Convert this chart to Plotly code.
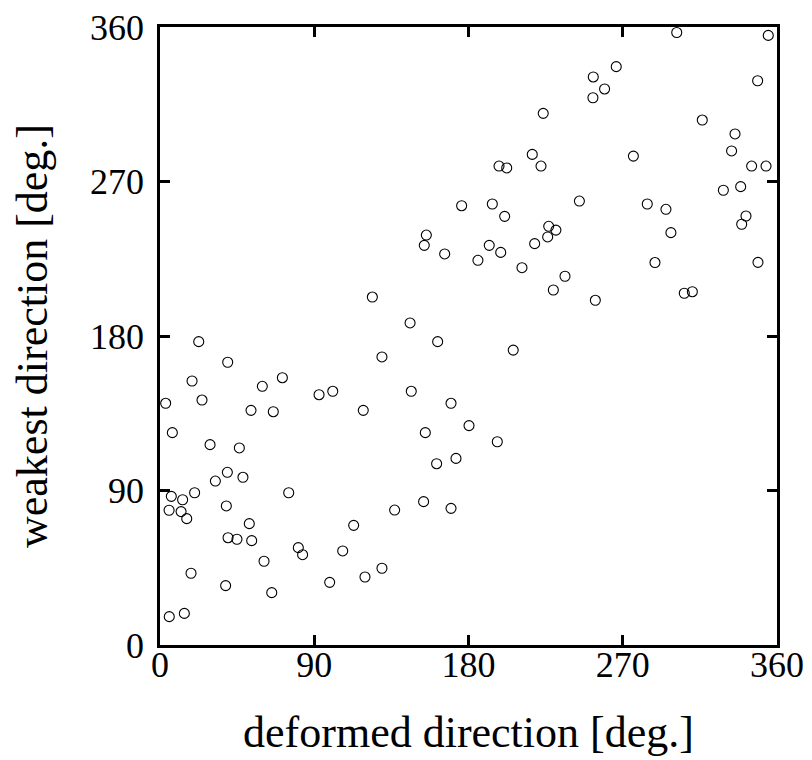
import plotly.graph_objects as go

# deformed direction [deg.]
deformed_deg = [
    22.6, 162.0, 39.5, 129.5, 18.7, 71.4, 59.7, 3.3, 24.5, 53.1, 66.1, 92.8, 100.8,
    118.6, 146.6, 169.8, 154.8, 180.3, 7.2, 29.2, 46.3, 161.4, 172.7, 39.3, 32.3,
    48.4, 6.6, 13.2, 20.2, 5.3, 12.3, 15.6, 38.7, 75.1, 52.1, 39.7, 44.9, 53.5,
    80.7, 83.2, 60.7, 18.1, 38.3, 65.2, 5.4, 14.2, 99.0, 119.6, 129.5, 106.6,
    113.0, 136.9, 153.8, 169.8,
    206.1, 196.8,
    176.0, 155.4, 154.2, 166.1, 123.9, 145.9,
    301.5, 354.9, 266.2, 252.8, 259.4, 252.6, 348.7, 223.6, 316.4, 335.5, 333.5,
    217.2, 276.2, 197.8, 202.3, 222.3, 345.2, 353.6, 328.7, 338.8, 193.9, 201.1,
    244.7, 284.3, 295.2, 226.8, 231.0, 226.2, 218.6, 192.1, 198.8, 185.5, 211.2,
    236.3, 229.5, 254.0, 298.1, 288.8, 341.9, 339.4, 348.9, 305.9, 310.6,
]

# weakest direction [deg.]
weakest_deg = [
    176.7, 176.7, 164.7, 167.8, 153.8, 155.7, 150.7, 140.8, 142.7, 136.7, 135.9, 145.8, 147.8,
    136.7, 147.8, 140.8, 123.7, 127.8, 123.7, 116.7, 114.8, 105.6, 108.7, 100.6, 95.5,
    97.7, 86.6, 84.6, 88.7, 78.5, 77.7, 73.6, 81.0, 88.7, 70.7, 62.5, 61.6, 60.8,
    56.7, 52.6, 48.8, 41.8, 34.6, 30.5, 16.5, 18.4, 36.5, 39.6, 44.7, 54.8,
    69.7, 78.6, 83.5, 79.6,
    171.8, 118.4,
    255.9, 238.8, 232.8, 227.8, 202.7, 187.6,
    356.8, 355.1, 336.9, 330.9, 323.9, 318.8, 328.7, 309.7, 305.8, 297.7, 287.8,
    285.8, 284.8, 279.0, 277.9, 279.0, 279.0, 279.0, 264.9, 267.0, 256.9, 249.7,
    258.6, 256.9, 253.8, 243.9, 241.7, 237.7, 233.8, 232.8, 228.7, 224.1, 219.8,
    214.8, 206.8, 200.8, 240.2, 222.8, 249.9, 245.1, 222.9, 204.9, 205.8,
]

tick_vals = [0, 90, 180, 270, 360]
tick_text = ["0", "90", "180", "270", "360"]

FONT = "Liberation Serif, Times New Roman, serif"
FIG_W, FIG_H = 812, 760
LABEL_GAP_Y = 16    # px between y tick labels and left axis line
LABEL_LIFT_X = 5    # px the x tick labels are lifted toward the axis
M_L, M_R, M_T, M_B = 160 - LABEL_GAP_Y, 35, 27, 115

plot_w = FIG_W - M_L - M_R
plot_h = FIG_H - M_T - M_B
x_dom0 = LABEL_GAP_Y / plot_w

fig = go.Figure()
fig.add_trace(go.Scatter(
    x=deformed_deg, y=weakest_deg, mode="markers",
    marker=dict(symbol="circle-open", size=10, color="black",
                line=dict(width=1.1, color="black")),
    cliponaxis=False, showlegend=False,
))
# invisible copy that only carries the label axes
fig.add_trace(go.Scatter(
    x=deformed_deg, y=weakest_deg, mode="markers", xaxis="x2", yaxis="y2",
    marker=dict(opacity=0), hoverinfo="skip", showlegend=False,
))

frame_axis = dict(
    range=[0, 360],
    tickmode="array",
    tickvals=tick_vals,
    ticks="inside",
    ticklen=10,
    tickwidth=3,
    tickcolor="black",
    showline=True,
    linewidth=3,
    linecolor="black",
    mirror="ticks",
    showgrid=False,
    zeroline=False,
    automargin=False,
    showticklabels=False,
)
label_axis = dict(
    range=[0, 360],
    tickmode="array",
    tickvals=tick_vals,
    ticktext=tick_text,
    ticks="",
    showline=False,
    showgrid=False,
    zeroline=False,
    automargin=False,
    tickfont=dict(family=FONT, size=36, color="black"),
)

fig.update_layout(
    width=FIG_W,
    height=FIG_H,
    margin=dict(l=M_L, r=M_R, t=M_T, b=M_B),
    plot_bgcolor="white",
    paper_bgcolor="white",
    xaxis=dict(**frame_axis, domain=[x_dom0, 1],
               title=dict(text="deformed direction [deg.]",
                          font=dict(family=FONT, size=44, color="black"),
                          standoff=70)),
    yaxis=dict(**frame_axis,
               title=dict(text="weakest direction [deg.]",
                          font=dict(family=FONT, size=44, color="black"),
                          standoff=96)),
    xaxis2=dict(**label_axis, overlaying="x", anchor="free",
                position=LABEL_LIFT_X / plot_h, side="bottom", domain=[x_dom0, 1]),
    yaxis2=dict(**label_axis, overlaying="y", anchor="free",
                position=0, side="left"),
)

fig.write_html(
    "out.html",
    config={"displayModeBar": False},
    post_script="document.body.style.margin='0';document.body.style.overflow='hidden';",
)
